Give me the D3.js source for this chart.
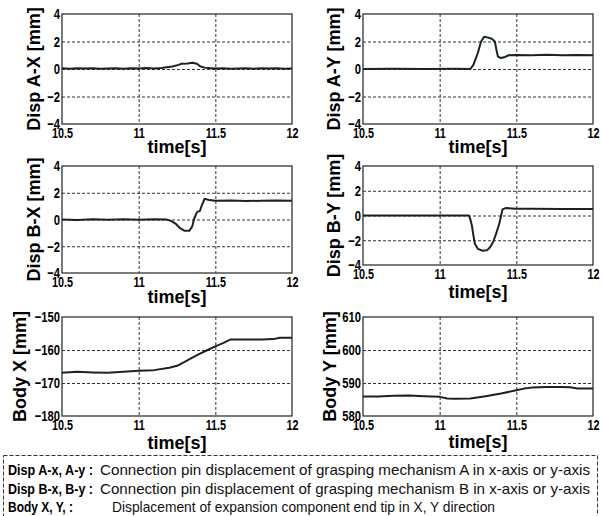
<!DOCTYPE html>
<html>
<head>
<meta charset="utf-8">
<script src="https://cdn.jsdelivr.net/npm/d3@7"></script>
<style>
  body { margin: 0; background: #fff; }
  svg { display: block; }
  .tick text { font-family: "Liberation Sans", Arial, sans-serif; font-weight: bold; fill: #000; }
</style>
</head>
<body>
<svg id="chart"></svg>
<script>
// time axis shared by all panels
var timeTicks = [10.5, 11, 11.5, 12];
var timeLabels = ["10.5", "11", "11.5", "12"];

// y ticks for each panel
var dispTicks = [-4, -2, 0, 2, 4];
var bodyXTicks = [-180, -170, -160, -150];
var bodyYTicks = [580, 590, 600, 610];

// series, [time, value]
var dispAX = [[10.5,0.05],[10.55,0.02],[10.6,0.06],[10.65,0.03],[10.7,0.05],[10.75,0.01],[10.8,0.04],[10.85,0.06],[10.9,0.02],[10.95,0.05],
  [11.0,0.04],[11.05,0.07],[11.1,0.03],[11.15,0.08],[11.18,0.12],[11.22,0.18],[11.26,0.3],[11.28,0.38],[11.32,0.4],[11.35,0.45],
  [11.38,0.38],[11.4,0.2],[11.43,0.1],[11.47,0.06],[11.5,0.03],[11.55,0.05],[11.6,0.02],[11.65,0.04],[11.7,0.06],[11.75,0.02],
  [11.8,0.05],[11.85,0.03],[11.9,0.05],[11.95,0.02],[12.0,0.04]];
var dispAY = [[10.5,0],[10.7,0.01],[10.9,0],[11.1,0.01],[11.2,0],[11.22,0.3],[11.25,1.2],[11.27,2.0],[11.29,2.35],[11.31,2.3],
  [11.34,2.2],[11.36,2.0],[11.37,1.4],[11.38,0.9],[11.4,0.8],[11.42,0.85],[11.45,1.0],[11.5,1.02],[11.6,1.0],[11.7,1.03],
  [11.8,1.0],[11.9,1.02],[12,1.0]];
var dispBX = [[10.5,0],[10.6,-0.03],[10.7,0.02],[10.8,-0.02],[10.9,0.01],[11.0,-0.02],[11.1,0.01],[11.18,0],[11.21,-0.1],[11.24,-0.3],
  [11.27,-0.65],[11.3,-0.85],[11.33,-0.85],[11.35,-0.5],[11.36,0.0],[11.38,0.55],[11.4,0.65],[11.41,1.0],[11.43,1.55],[11.46,1.45],
  [11.5,1.4],[11.6,1.42],[11.7,1.38],[11.8,1.4],[11.9,1.42],[12,1.4]];
var dispBY = [[10.5,0],[10.8,0.01],[11.0,0],[11.19,0],[11.2,-0.3],[11.21,-0.8],[11.22,-1.6],[11.23,-2.3],[11.25,-2.7],[11.28,-2.85],
  [11.31,-2.8],[11.33,-2.55],[11.35,-2.1],[11.37,-1.4],[11.39,-0.6],[11.41,0.5],[11.43,0.6],[11.5,0.55],[11.6,0.55],[11.8,0.53],[12,0.52]];
var bodyX = [[10.5,-166.9],[10.6,-166.6],[10.7,-166.8],[10.8,-166.9],[10.9,-166.6],[11.0,-166.3],[11.1,-166.1],[11.2,-165.4],[11.25,-164.8],
  [11.3,-163.6],[11.35,-162.3],[11.4,-161.1],[11.45,-160.0],[11.5,-158.9],[11.55,-157.9],[11.6,-156.8],[11.7,-156.8],[11.8,-156.8],
  [11.88,-156.7],[11.92,-156.3],[12,-156.3]];
var bodyY = [[10.5,585.9],[10.6,585.9],[10.7,586.1],[10.8,586.2],[10.9,586.0],[11.0,585.8],[11.05,585.3],[11.1,585.2],[11.2,585.3],
  [11.3,586.0],[11.4,586.8],[11.5,587.8],[11.55,588.3],[11.6,588.6],[11.7,588.8],[11.8,588.8],[11.85,588.7],[11.9,588.3],[12,588.3]];

// legend text
var legendKeys = ["Disp A-x, A-y :", "Disp B-x, B-y :", "Body X, Y, :"];
var legendTexts = ["Connection pin displacement of grasping mechanism A in x-axis or y-axis",
  "Connection pin displacement of grasping mechanism B in x-axis or y-axis",
  "Displacement of expansion component end tip in X, Y direction"];

var svg = d3.select("#chart").attr("width", 602).attr("height", 516);

var panels = [
  {data: dispAX, ticks: dispTicks, label: "Disp A-X [mm]", x0: 62, x1: 292, y0: 14, y1: 124, lx: 34, ty: 153},
  {data: dispAY, ticks: dispTicks, label: "Disp A-Y [mm]", x0: 363, x1: 593, y0: 14, y1: 124, lx: 334, ty: 153},
  {data: dispBX, ticks: dispTicks, label: "Disp B-X [mm]", x0: 62, x1: 292, y0: 166, y1: 273, lx: 34, ty: 303},
  {data: dispBY, ticks: dispTicks, label: "Disp B-Y [mm]", x0: 363, x1: 593, y0: 166, y1: 265, lx: 334, ty: 298},
  {data: bodyX, ticks: bodyXTicks, label: "Body X [mm]", x0: 62, x1: 292, y0: 317, y1: 416, lx: 20, ty: 449},
  {data: bodyY, ticks: bodyYTicks, label: "Body Y [mm]", x0: 363, x1: 593, y0: 317, y1: 416, lx: 330, ty: 448}
];

function squeeze(sel, k) {
  sel.each(function() {
    var len = this.getComputedTextLength();
    d3.select(this).attr("textLength", len * k).attr("lengthAdjust", "spacingAndGlyphs");
  });
}

panels.forEach(function(p) {
  var w = p.x1 - p.x0, h = p.y1 - p.y0;
  var xScale = d3.scaleLinear().domain([10.5, 12]).range([0, w]);
  var yScale = d3.scaleLinear().domain(d3.extent(p.ticks)).range([h, 0]);

  var g = svg.append("g").attr("transform", "translate(" + p.x0 + "," + p.y0 + ")");

  // grid
  g.append("g").call(d3.axisBottom(xScale).tickValues(timeTicks.slice(1, -1)).tickSize(h).tickFormat(""))
    .call(function(s) { s.select(".domain").remove(); })
    .selectAll("line").attr("stroke", "#333").attr("stroke-dasharray", "3,2");
  g.append("g").call(d3.axisLeft(yScale).tickValues(p.ticks.slice(1, -1)).tickSize(-w).tickFormat(""))
    .call(function(s) { s.select(".domain").remove(); })
    .selectAll("line").attr("stroke", "#333").attr("stroke-dasharray", "3,2");

  // line
  var line = d3.line().x(function(d) { return xScale(d[0]); }).y(function(d) { return yScale(d[1]); });
  g.append("path").datum(p.data).attr("d", line)
    .attr("fill", "none").attr("stroke", "#18261a").attr("stroke-width", 2).attr("stroke-linejoin", "round");

  // frame
  g.append("rect").attr("width", w).attr("height", h).attr("fill", "none").attr("stroke", "#222").attr("stroke-width", 1.2);

  // tick labels
  var xa = g.append("g").attr("transform", "translate(0," + h + ")")
    .call(d3.axisBottom(xScale).tickValues(timeTicks).tickSize(0).tickPadding(3)
      .tickFormat(function(d, i) { return timeLabels[i]; }));
  xa.select(".domain").remove();
  xa.selectAll("text").attr("font-size", 15);
  squeeze(xa.selectAll("text"), 0.72);

  var ya = g.append("g")
    .call(d3.axisLeft(yScale).tickValues(p.ticks).tickSize(0).tickPadding(2));
  ya.select(".domain").remove();
  ya.selectAll("text").attr("font-size", 15);
  squeeze(ya.selectAll("text"), 0.75);

  // axis titles
  svg.append("text").attr("x", (p.x0 + p.x1) / 2).attr("y", p.ty)
    .attr("text-anchor", "middle").attr("font-family", "Liberation Sans, Arial, sans-serif")
    .attr("font-weight", "bold").attr("font-size", 18).attr("fill", "#000").text("time[s]");
  svg.append("text").attr("transform", "translate(" + (p.lx + 6) + "," + ((p.y0 + p.y1) / 2) + ") rotate(-90)")
    .attr("text-anchor", "middle").attr("font-family", "Liberation Sans, Arial, sans-serif")
    .attr("font-weight", "bold").attr("font-size", 18).attr("fill", "#000").text(p.label);
});

// legend box
svg.append("rect").attr("x", 3.5).attr("y", 455.5).attr("width", 594).attr("height", 70)
  .attr("fill", "none").attr("stroke", "#333").attr("stroke-dasharray", "4,2");

var keyEnds = [93, 93, 73];
var textStarts = [100, 100, 112];
var textEnds = [590, 590, 495];
legendKeys.forEach(function(k, i) {
  var yy = 475 + i * 18.5;
  svg.append("text").attr("x", 8).attr("y", yy).attr("font-family", "Liberation Sans, Arial, sans-serif")
    .attr("font-weight", "bold").attr("font-size", 15).attr("fill", "#000")
    .attr("textLength", keyEnds[i] - 8).attr("lengthAdjust", "spacingAndGlyphs").text(k);
  svg.append("text").attr("x", textStarts[i]).attr("y", yy).attr("font-family", "Liberation Sans, Arial, sans-serif")
    .attr("font-size", 15).attr("fill", "#111")
    .attr("textLength", textEnds[i] - textStarts[i]).attr("lengthAdjust", "spacingAndGlyphs").text(legendTexts[i]);
});
</script>
</body>
</html>
